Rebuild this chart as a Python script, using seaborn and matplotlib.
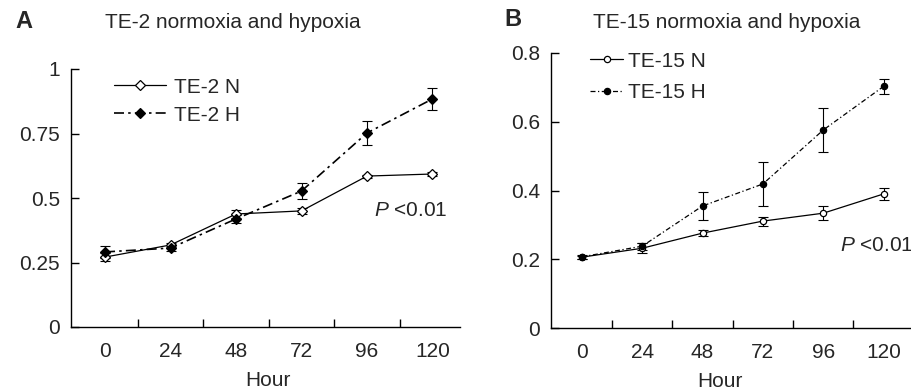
import numpy as np
import pandas as pd
import matplotlib
matplotlib.use("Agg")
import matplotlib.pyplot as plt
import seaborn as sns

hours = ["0", "24", "48", "72", "96", "120"]

# TE-2 (panel A)
te2_n = [0.271, 0.318, 0.438, 0.450, 0.585, 0.593]
te2_n_err = [0.014, 0.008, 0.015, 0.012, 0.006, 0.006]
te2_h = [0.291, 0.306, 0.419, 0.527, 0.752, 0.884]
te2_h_err = [0.022, 0.010, 0.015, 0.030, 0.045, 0.042]

# TE-15 (panel B)
te15_n = [0.206, 0.232, 0.276, 0.311, 0.334, 0.390]
te15_n_err = [0.004, 0.015, 0.008, 0.013, 0.020, 0.018]
te15_h = [0.207, 0.238, 0.355, 0.419, 0.576, 0.703]
te15_h_err = [0.005, 0.010, 0.040, 0.064, 0.064, 0.022]

sns.set_theme(style="ticks")
plt.rcParams["font.family"] = ["Liberation Sans", "DejaVu Sans"]
plt.rcParams["mathtext.fontset"] = "custom"
plt.rcParams["mathtext.it"] = "Liberation Sans:italic"
plt.rcParams["mathtext.rm"] = "Liberation Sans"
FS = 15

fig = plt.figure(figsize=(9.12, 3.92), dpi=100)
axA = fig.add_axes([71/912, 65/392, 389/912, 258/392])
axB = fig.add_axes([551/912, 64/392, 361/912, 275/392])


def draw(ax, n, n_err, h, h_err, lab_n, lab_h, mk_n, mk_h, ms, dash, hlw):
    pos = np.arange(len(hours))
    df = pd.DataFrame({"pos": pos, "n": n, "h": h})
    ax.errorbar(pos, n, yerr=n_err, fmt="none", ecolor="black", elinewidth=0.8, capsize=3.5, capthick=0.8, zorder=2)
    ax.errorbar(pos, h, yerr=h_err, fmt="none", ecolor="black", elinewidth=0.8, capsize=3.5, capthick=0.8, zorder=2)
    sns.lineplot(data=df, x="pos", y="n", ax=ax, color="black", lw=0.9, linestyle="-",
                 marker=mk_n, markersize=ms, markerfacecolor="white", markeredgecolor="black",
                 markeredgewidth=0.9, label=lab_n, zorder=3)
    sns.lineplot(data=df, x="pos", y="h", ax=ax, color="black", lw=hlw, linestyle=dash,
                 marker=mk_h, markersize=ms, markerfacecolor="black", markeredgecolor="black",
                 markeredgewidth=0.9, label=lab_h, zorder=3)
    ax.set_xticks(pos)
    ax.set_xticklabels(hours, fontsize=FS)
    ax.set_xticks(pos[:-1] + 0.5, minor=True)
    ax.tick_params(axis="x", which="major", length=0, pad=11)
    ax.tick_params(axis="x", which="minor", direction="in", length=6, width=1, color="black")
    ax.tick_params(axis="y", direction="in", length=6, width=1, color="black", labelsize=FS, pad=8)
    ax.set_xlabel("Hour", fontsize=FS)
    ax.set_ylabel("")
    ax.spines["top"].set_visible(False)
    ax.spines["right"].set_visible(False)
    for s in ["left", "bottom"]:
        ax.spines[s].set_color("black")
        ax.spines[s].set_linewidth(1)
    ax.set_facecolor("none")


# panel A
draw(axA, te2_n, te2_n_err, te2_h, te2_h_err, "TE-2 N", "TE-2 H", "D", "D", 5.5,
     (0, (6, 2.5, 1.5, 2.5)), 1.2)
axA.set_xlim(-0.52, 5.42)
axA.set_ylim(0, 1)
axA.set_yticks([0, 0.25, 0.5, 0.75, 1])
axA.set_yticklabels(["0", "0.25", "0.5", "0.75", "1"])
axA.xaxis.set_label_coords(0.507, -0.17)
axA.legend(loc="upper left", bbox_to_anchor=(0.11, 0.967), frameon=False, fontsize=FS,
           handlelength=2.5, handletextpad=0.38, labelspacing=0.44, borderpad=0, borderaxespad=0)
axA.text(0.78, 0.45, "$P$ <0.01", transform=axA.transAxes, fontsize=FS, va="center", ha="left")

# panel B
draw(axB, te15_n, te15_n_err, te15_h, te15_h_err, "TE-15 N", "TE-15 H", "o", "o", 4.5,
     (0, (4, 2, 1, 2)), 0.9)
axB.set_xlim(-0.51, 5.47)
axB.set_ylim(0, 0.8)
axB.set_yticks([0, 0.2, 0.4, 0.6, 0.8])
axB.set_yticklabels(["0", "0.2", "0.4", "0.6", "0.8"])
axB.xaxis.set_label_coords(0.468, -0.16)
axB.legend(loc="upper left", bbox_to_anchor=(0.108, 1.005), frameon=False, fontsize=FS,
           handlelength=1.6, handletextpad=0.24, labelspacing=0.59, borderpad=0, borderaxespad=0)
axB.text(0.80, 0.30, "$P$ <0.01", transform=axB.transAxes, fontsize=FS, va="center", ha="left")

# panel letters and titles
fig.text(15/912, 1 - 22/392, "A", fontsize=17, fontweight="bold", va="center", ha="left")
fig.text(105/912, 1 - 22/392, "TE-2 normoxia and hypoxia", fontsize=FS, va="center", ha="left")
fig.text(504/912, 1 - 20/392, "B", fontsize=17, fontweight="bold", va="center", ha="left")
fig.text(593/912, 1 - 22/392, "TE-15 normoxia and hypoxia", fontsize=FS, va="center", ha="left")

fig.savefig("out.png", dpi=100, facecolor="white")
